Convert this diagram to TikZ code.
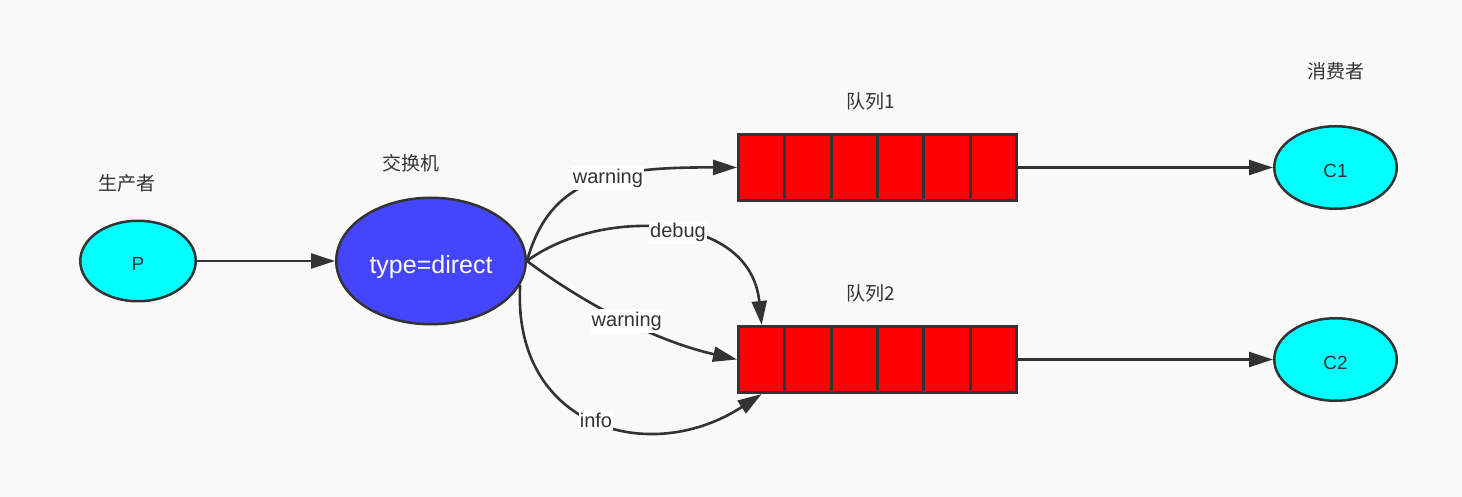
\documentclass[tikz,border=0pt]{standalone}
\usepackage{fontspec}
\setmainfont{Liberation Sans}
\newfontfamily\cjk{Noto Sans CJK SC}
\usetikzlibrary{arrows.meta,shapes.geometric}
\definecolor{bg}{HTML}{F9F9F9}
\definecolor{ink}{HTML}{333333}
\definecolor{exblue}{HTML}{4545FD}
\definecolor{qred}{HTML}{FF0000}
\definecolor{ccyan}{HTML}{00FFFF}
\newcommand{\lowtext}[2]{\raisebox{-#1}[\height][\depth]{#2}}
\begin{document}
\begin{tikzpicture}[x=1pt,y=-1pt,
  ell/.style={ellipse, draw=ink, line width=2.5pt, inner sep=0pt},
  cyanell/.style={ell, fill=ccyan, minimum width=120pt, minimum height=80.5pt, text=ink, font=\fontsize{19}{22}\selectfont},
  exell/.style={ell, fill=exblue, minimum width=189.5pt, minimum height=126.5pt, text=white, font=\fontsize{25}{30}\selectfont},
  cell/.style={rectangle, draw=ink, fill=qred, line width=3pt, minimum width=46.33pt, minimum height=66pt, inner sep=0pt},
  lbl/.style={fill=white, inner xsep=1pt, inner ysep=2.5pt, text=ink, font=\fontsize{20}{24}\selectfont},
  title/.style={text=ink, font=\cjk\fontsize{19}{22}\selectfont},
  conn/.style={draw=ink, line width=2.6pt, -{Triangle[length=24pt,width=15pt]}}
]
\fill[bg] (0,0) rectangle (1462,497);
\useasboundingbox (0,0) rectangle (1462,497);

% titles
\node[title] (tp) at (127,183) {生产者};
\node[title] (tx) at (411,163) {交换机};
\node[title] (tq1) at (871,101) {队列1};
\node[title] (tq2) at (871,293) {队列2};
\node[title] (tc) at (1335.5,71) {消费者};

% nodes
\node[cyanell, minimum width=115.5pt] (p) at (138,261) {\lowtext{3pt}{P}};
\node[exell] (ex) at (431,261) {\lowtext{6pt}{type=direct}};
\node[cyanell, minimum width=122.5pt, minimum height=82.5pt] (c1) at (1335.5,167.5) {\lowtext{3pt}{C1}};
\node[cyanell, minimum width=122.5pt, minimum height=82.5pt] (c2) at (1335.5,359.5) {\lowtext{3pt}{C2}};

% queues
\foreach \i/\n in {0/a,1/b,2/c,3/d,4/e,5/f}{
  \node[cell] (q1\n) at ({761.67+46.33*\i},167.5) {};
  \node[cell] (q2\n) at ({761.67+46.33*\i},359.5) {};
}

% connectors
\draw[conn] (p) -- (ex);
\draw[conn] (q1f.east) -- (c1);
\draw[conn] (q2f.east) -- (c2);

\draw[conn] (ex.east) .. controls (550,178) and (610,167) .. (q1a.west)
  node[lbl, pos=0.57] (lw1) {warning};
\draw[conn] (ex.east) .. controls (598,208) and (750,210) .. (q2a.north)
  node[lbl, pos=0.54] (ld) {debug};
\draw[conn] (ex.east) .. controls (590,308) and (660,342) .. (q2a.west)
  node[lbl, pos=0.5] (lw2) {warning};
\draw[conn] (ex.-15) .. controls (512,428) and (650,467) .. (q2a.south)
  node[lbl, pos=0.5] (li) {info};
\end{tikzpicture}
\end{document}
